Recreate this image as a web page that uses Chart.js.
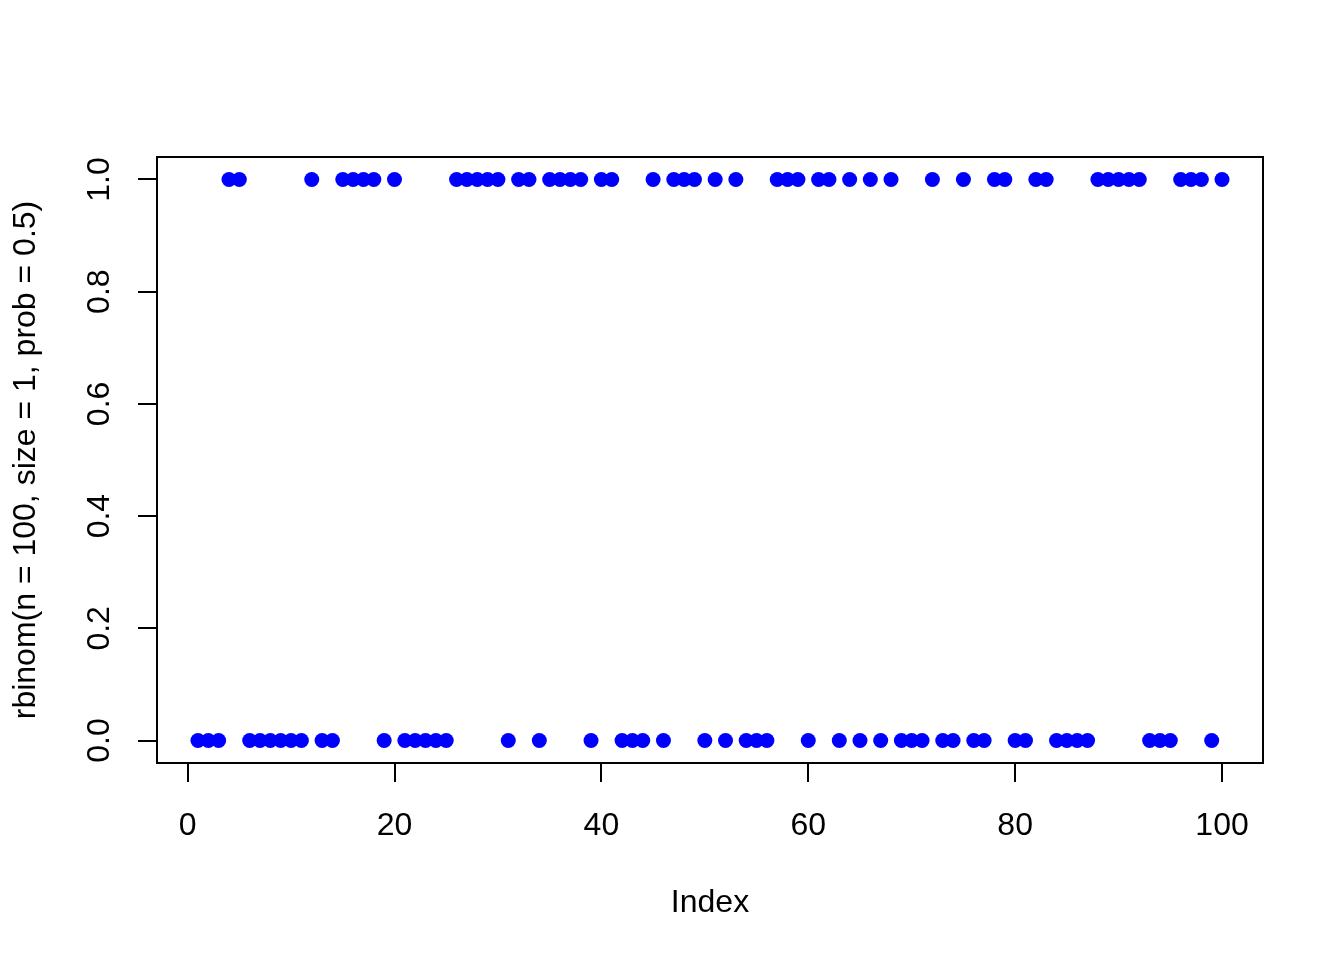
<!DOCTYPE html>
<html>
<head>
<meta charset="utf-8">
<script src="https://cdn.jsdelivr.net/npm/chart.js@4/dist/chart.umd.min.js"></script>
<style>
  html, body { margin: 0; padding: 0; background: #ffffff; }
  canvas { display: block; }
</style>
</head>
<body>
<canvas id="binomChart" width="1344" height="960"></canvas>
<script>
// Index (x) and rbinom draws (y)
const indexValues = [
  1, 2, 3, 4, 5, 6, 7, 8, 9, 10,
  11, 12, 13, 14, 15, 16, 17, 18, 19, 20,
  21, 22, 23, 24, 25, 26, 27, 28, 29, 30,
  31, 32, 33, 34, 35, 36, 37, 38, 39, 40,
  41, 42, 43, 44, 45, 46, 47, 48, 49, 50,
  51, 52, 53, 54, 55, 56, 57, 58, 59, 60,
  61, 62, 63, 64, 65, 66, 67, 68, 69, 70,
  71, 72, 73, 74, 75, 76, 77, 78, 79, 80,
  81, 82, 83, 84, 85, 86, 87, 88, 89, 90,
  91, 92, 93, 94, 95, 96, 97, 98, 99, 100
];
const drawValues = [
  0, 0, 0, 1, 1, 0, 0, 0, 0, 0,
  0, 1, 0, 0, 1, 1, 1, 1, 0, 1,
  0, 0, 0, 0, 0, 1, 1, 1, 1, 1,
  0, 1, 1, 0, 1, 1, 1, 1, 0, 1,
  1, 0, 0, 0, 1, 0, 1, 1, 1, 0,
  1, 0, 1, 0, 0, 0, 1, 1, 1, 0,
  1, 1, 0, 1, 0, 1, 0, 1, 0, 0,
  0, 1, 0, 0, 1, 0, 0, 1, 1, 0,
  0, 1, 1, 0, 0, 0, 0, 1, 1, 1,
  1, 1, 0, 0, 0, 1, 1, 1, 0, 1
];
const xTicks = [0, 20, 40, 60, 80, 100];
const yTicks = [0, 0.2, 0.4, 0.6, 0.8, 1.0];
const xTitle = 'Index';
const yTitle = 'rbinom(n = 100, size = 1, prob = 0.5)';

const FONT = 'Liberation Sans, Arial, Helvetica, sans-serif';

// draws the full box around the plot region, like R's box()
const boxPlugin = {
  id: 'plotBox',
  afterDraw(chart) {
    const { ctx, chartArea } = chart;
    ctx.save();
    ctx.strokeStyle = '#000000';
    ctx.lineWidth = 2;
    ctx.strokeRect(chartArea.left, chartArea.top,
      chartArea.right - chartArea.left, chartArea.bottom - chartArea.top);
    ctx.restore();
  }
};

const points = indexValues.map((x, i) => ({ x: x, y: drawValues[i] }));

const ctx = document.getElementById('binomChart').getContext('2d');
new Chart(ctx, {
  type: 'scatter',
  data: {
    datasets: [{
      data: points,
      backgroundColor: '#0000ff',
      borderWidth: 0,
      pointRadius: 7.5,
      pointHoverRadius: 7.5
    }]
  },
  options: {
    responsive: false,
    devicePixelRatio: 1,
    animation: false,
    layout: { padding: { left: 0, top: 157, right: 81, bottom: 0 } },
    plugins: { legend: { display: false }, tooltip: { enabled: false } },
    scales: {
      x: {
        type: 'linear',
        min: -2.96,
        max: 103.96,
        afterBuildTicks: scale => { scale.ticks = xTicks.map(v => ({ value: v })); },
        afterFit: scale => { scale.height = 197; },
        grid: {
          drawOnChartArea: false,
          drawTicks: true,
          tickLength: 19,
          color: '#000000',
          lineWidth: 2
        },
        border: { display: false },
        ticks: {
          color: '#000000',
          font: { family: FONT, size: 32 },
          padding: 25,
          maxRotation: 0,
          minRotation: 0,
          callback: v => String(v)
        },
        title: {
          display: true,
          text: xTitle,
          color: '#000000',
          font: { family: FONT, size: 32 },
          padding: { top: 0, bottom: 38 }
        }
      },
      y: {
        type: 'linear',
        min: -0.04,
        max: 1.04,
        afterBuildTicks: scale => { scale.ticks = yTicks.map(v => ({ value: v })); },
        afterFit: scale => { scale.width = 157; },
        grid: {
          drawOnChartArea: false,
          drawTicks: true,
          tickLength: 19,
          color: '#000000',
          lineWidth: 2
        },
        border: { display: false },
        ticks: {
          color: '#000000',
          font: { family: FONT, size: 32 },
          padding: 16,
          crossAlign: 'center',
          minRotation: 90,
          maxRotation: 90,
          callback: v => v.toFixed(1)
        },
        title: {
          display: true,
          text: yTitle,
          color: '#000000',
          font: { family: FONT, size: 32 },
          padding: { top: 7, bottom: 0 }
        }
      }
    }
  },
  plugins: [boxPlugin]
});
</script>
</body>
</html>
